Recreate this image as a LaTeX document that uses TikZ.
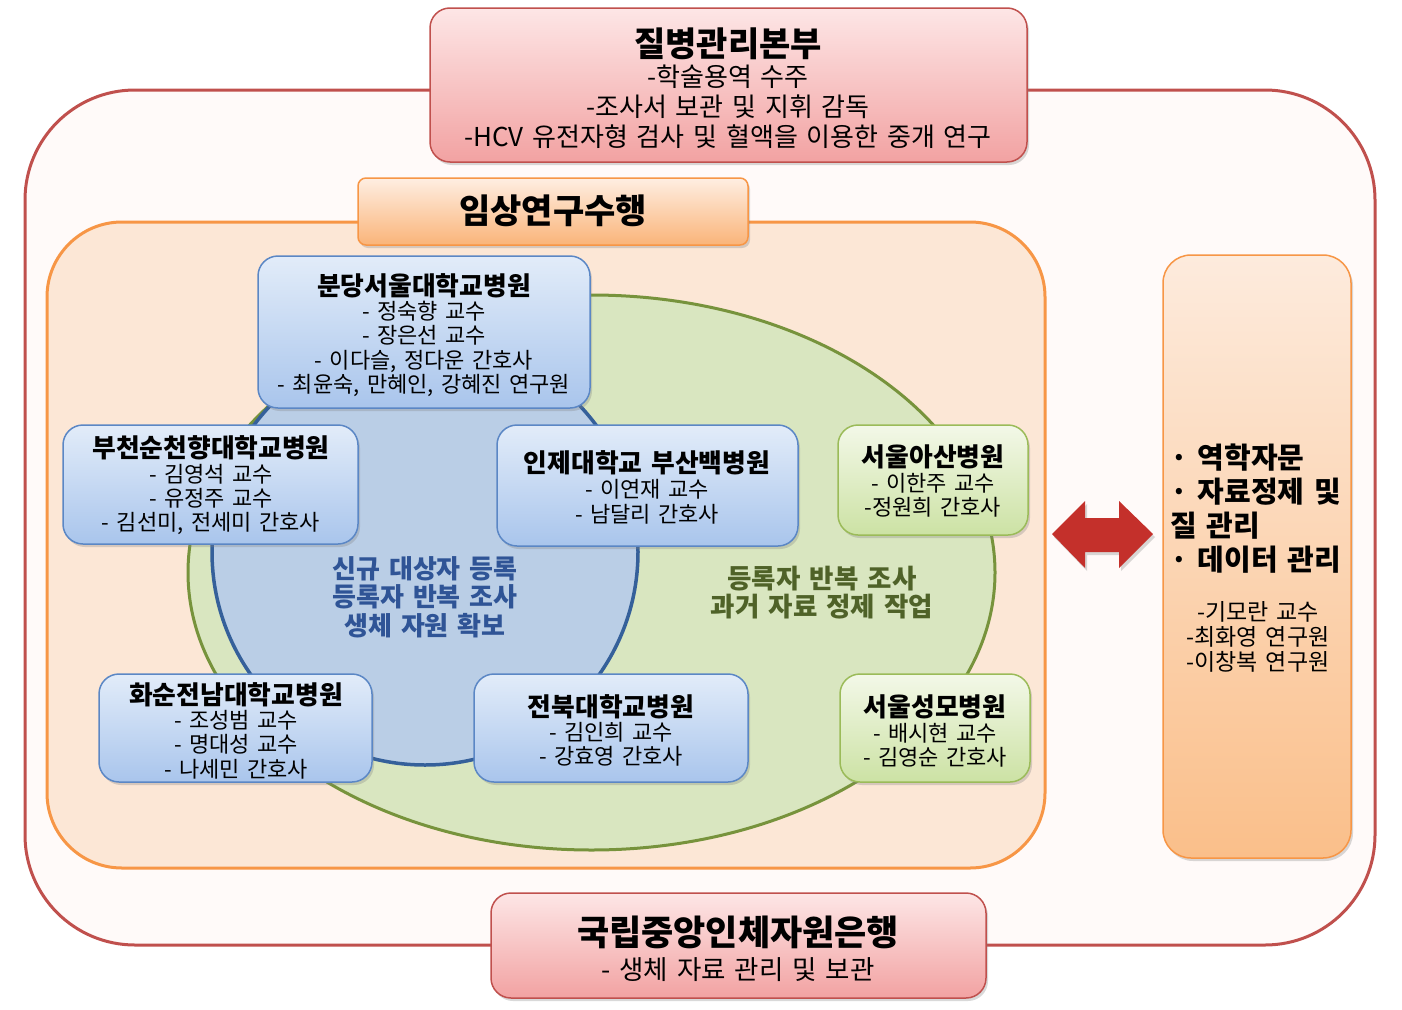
\documentclass[tikz,border=0pt]{standalone}
\usepackage{fontspec}
\setmainfont{Noto Sans CJK KR}[WordSpace=1.5]
\usetikzlibrary{shadows}
\definecolor{redstroke}{HTML}{C0504D}
\definecolor{outerfill}{HTML}{FFFAF9}
\definecolor{orangestroke}{HTML}{F79646}
\definecolor{orangefill}{HTML}{FCE7D6}
\definecolor{greenstroke}{HTML}{77933C}
\definecolor{greenfill}{HTML}{D9E6C0}
\definecolor{bluestroke}{HTML}{35609A}
\definecolor{bluefill}{HTML}{BACEE6}
\definecolor{bboxstroke}{HTML}{5B87C5}
\definecolor{bboxtop}{HTML}{E2ECF9}
\definecolor{bboxbot}{HTML}{A9C5EC}
\definecolor{gboxstroke}{HTML}{9BBB59}
\definecolor{gboxtop}{HTML}{F3F8E8}
\definecolor{gboxbot}{HTML}{CCE2A4}
\definecolor{pboxtop}{HTML}{FDE6E6}
\definecolor{pboxbot}{HTML}{F2A2A2}
\definecolor{oboxtop}{HTML}{FEEEE2}
\definecolor{oboxbot}{HTML}{FAB479}
\definecolor{rboxtop}{HTML}{FDEBDD}
\definecolor{rboxbot}{HTML}{FABF8A}
\definecolor{bluetext}{HTML}{2F5496}
\definecolor{greentext}{HTML}{4F6228}
\definecolor{arrowred}{HTML}{C4302B}
\newcommand\hosptitle[1]{{\bfseries\fontsize{25.8}{24}\selectfont #1}}
\begin{document}
\begin{tikzpicture}[x=1pt,y=-1pt,
  shadowed/.style={drop shadow={shadow xshift=2pt, shadow yshift=-3pt, opacity=0.3}},
  box/.style={rounded corners=20pt, draw, line width=1.5pt, inner sep=0pt, shadowed},
  bluebox/.style={box, draw=bboxstroke, top color=bboxtop, bottom color=bboxbot},
  greenbox/.style={box, draw=gboxstroke, top color=gboxtop, bottom color=gboxbot},
  pinkbox/.style={box, draw=redstroke, top color=pboxtop, bottom color=pboxbot},
  txt/.style={align=center, inner sep=0pt, font=\fontsize{22}{24.3}\selectfont},
]
\useasboundingbox (0,0) rectangle (1402,1009);

% outer red frame
\node[draw=redstroke, fill=outerfill, line width=3pt, rounded corners=110pt,
      minimum width=1350pt, minimum height=855pt, inner sep=0pt] (outer) at (700,517.5) {};
% orange container
\node[draw=orangestroke, fill=orangefill, line width=3pt, rounded corners=75pt,
      minimum width=998pt, minimum height=646pt, inner sep=0pt] (clin) at (546,545) {};
% green ellipse
\draw[draw=greenstroke, fill=greenfill, line width=3pt] (591.5,572.5) ellipse [x radius=403.5pt, y radius=277.5pt];
% blue circle
\draw[draw=bluestroke, fill=bluefill, line width=3.5pt] (425,552) circle [radius=213pt];

% circle texts
\node[txt, font=\bfseries\fontsize{26}{28.5}\selectfont, text=bluetext] (bluetxt) at (425,597)
  {신규 대상자 등록\\등록자 반복 조사\\생체 자원 확보};
\node[txt, font=\bfseries\fontsize{26.5}{28}\selectfont, text=greentext] (greentxt) at (822,593)
  {등록자 반복 조사\\과거 자료 정제 작업};

% hospital boxes
\node[bluebox, minimum width=332pt, minimum height=152pt] (bundang) at (424,332) {};
\node[txt] (bundangT) at (424,335) {\hosptitle{분당서울대학교병원}\\- 정숙향 교수\\- 장은선 교수\\- 이다슬, 정다운 간호사\\- 최윤숙, 만혜인, 강혜진 연구원};

\node[bluebox, minimum width=295pt, minimum height=119pt] (bucheon) at (210.5,484.5) {};
\node[txt] (bucheonT) at (211,485.5) {\hosptitle{부천순천향대학교병원}\\- 김영석 교수\\- 유정주 교수\\- 김선미, 전세미 간호사};

\node[bluebox, minimum width=301pt, minimum height=121pt] (inje) at (647.5,485.5) {};
\node[txt] (injeT) at (647,487) {\hosptitle{인제대학교 부산백병원}\\[1.5pt]- 이연재 교수\\- 남달리 간호사};

\node[greenbox, minimum width=190pt, minimum height=110pt] (asan) at (933,480) {};
\node[txt] (asanT) at (933,481) {\hosptitle{서울아산병원}\\- 이한주 교수\\-정원희 간호사};

\node[bluebox, minimum width=273pt, minimum height=108pt] (hwasun) at (235.5,728) {};
\node[txt] (hwasunT) at (236,730.5) {\hosptitle{화순전남대학교병원}\\- 조성범 교수\\- 명대성 교수\\- 나세민 간호사};

\node[bluebox, minimum width=274pt, minimum height=108pt] (jeonbuk) at (611,728) {};
\node[txt] (jeonbukT) at (611,730.5) {\hosptitle{전북대학교병원}\\- 김인희 교수\\- 강효영 간호사};

\node[greenbox, minimum width=190pt, minimum height=108pt] (seongmo) at (935,728) {};
\node[txt] (seongmoT) at (935,731) {\hosptitle{서울성모병원}\\- 배시현 교수\\- 김영순 간호사};

% clinical research title
\node[box, draw=orangestroke, top color=oboxtop, bottom color=oboxbot, rounded corners=8pt,
      minimum width=390pt, minimum height=67pt] (clinbox) at (553,211.5) {};
\node[txt, font=\bfseries\fontsize{34}{34}\selectfont] (clinT) at (553,211) {임상연구수행};

% top box
\node[pinkbox, minimum width=597pt, minimum height=154pt] (kcdc) at (728.5,85) {};
\node[txt, font=\fontsize{26}{30}\selectfont] (kcdcT) at (728,88)
  {{\bfseries\fontsize{34}{30}\selectfont 질병관리본부}\\-학술용역 수주\\-조사서 보관 및 지휘 감독\\-HCV 유전자형 검사 및 혈액을 이용한 중개 연구};

% bottom box
\node[pinkbox, minimum width=495pt, minimum height=105pt] (bank) at (738.5,945.5) {};
\node[txt, font=\fontsize{26.5}{34}\selectfont] (bankT) at (738,949)
  {{\bfseries\fontsize{35}{34}\selectfont 국립중앙인체자원은행}\\- 생체 자료 관리 및 보관};

% right box
\node[box, draw=orangestroke, top color=rboxtop, bottom color=rboxbot, rounded corners=28pt,
      minimum width=188pt, minimum height=603pt] (epi) at (1257,556.5) {};
\node[align=left, inner sep=0pt, anchor=west, font=\bfseries\fontsize{29}{34}\selectfont] (epiT) at (1170,509)
  {· 역학자문\\· 자료정제 및\\질 관리\\· 데이터 관리};
\node[txt, font=\fontsize{23}{25}\selectfont] (epiM) at (1258,637)
  {-기모란 교수\\-최화영 연구원\\-이창복 연구원};

% double arrow
\fill[arrowred, shadowed] (1052,534) -- (1085,501) -- (1085,518) -- (1119,518) -- (1119,501)
  -- (1153,534) -- (1119,568) -- (1119,552) -- (1085,552) -- (1085,568) -- cycle;
\end{tikzpicture}
\end{document}
